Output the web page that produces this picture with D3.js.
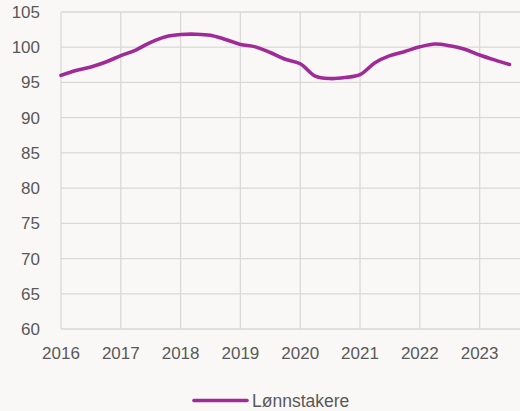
<html>
<head>
<meta charset="UTF-8">
<title>Lønnstakere</title>
<style>
body { margin: 0; background: #f9f8f6; }
svg text { font-family: "Liberation Sans", Arial, sans-serif; fill: #595959; }
.grid line { stroke: #d9d9d9; stroke-width: 1.3; }
</style>
<script src="https://d3js.org/d3.v7.min.js"></script>
</head>
<body>
<div id="chart"></div>
<script>
// quarterly index, 2016K1 - 2023K3
var years = [2016, 2017, 2018, 2019, 2020, 2021, 2022, 2023];
var yTicks = [60, 65, 70, 75, 80, 85, 90, 95, 100, 105];
var seriesName = "Lønnstakere";
var values = [
  96.0, 96.7, 97.2, 97.9,
  98.8, 99.6, 100.7, 101.5,
  101.8, 101.85, 101.7, 101.1,
  100.4, 100.05, 99.25, 98.3,
  97.65, 95.9, 95.55, 95.7,
  96.1, 97.8, 98.8, 99.4,
  100.05, 100.45, 100.2, 99.7,
  98.9, 98.2, 97.55
];

var width = 520, height = 411;
var plotLeft = 61, plotTop = 12, plotBottom = 329, plotRight = 520;

var svg = d3.select("#chart").append("svg")
    .attr("width", width)
    .attr("height", height);

svg.append("rect").attr("width", width).attr("height", height).attr("fill", "#f9f8f6");

var x = d3.scaleLinear().domain([2016, 2016 + 7.675]).range([plotLeft, plotRight]);
var y = d3.scaleLinear().domain([60, 105]).range([plotBottom, plotTop]);

var grid = svg.append("g").attr("class", "grid");
grid.selectAll(".h").data(yTicks).enter().append("line")
    .attr("x1", plotLeft).attr("x2", plotRight)
    .attr("y1", function(d){ return y(d); })
    .attr("y2", function(d){ return y(d); });
grid.selectAll(".v").data(years).enter().append("line")
    .attr("y1", plotTop).attr("y2", plotBottom)
    .attr("x1", function(d){ return x(d); })
    .attr("x2", function(d){ return x(d); });

svg.selectAll(".ylab").data(yTicks).enter().append("text")
    .attr("x", 40)
    .attr("y", function(d){ return y(d); })
    .attr("dy", "0.35em")
    .attr("text-anchor", "end")
    .style("font-size", "17px")
    .text(function(d){ return d; });

svg.selectAll(".xlab").data(years).enter().append("text")
    .attr("x", function(d){ return x(d); })
    .attr("y", 359)
    .attr("text-anchor", "middle")
    .style("font-size", "17px")
    .text(function(d){ return d; });

var line = d3.line()
    .x(function(d, i){ return x(2016 + i / 4); })
    .y(function(d){ return y(d); })
    .curve(d3.curveCatmullRom.alpha(0.5));

svg.append("path")
    .datum(values)
    .attr("fill", "none")
    .attr("stroke", "#a02a98")
    .attr("stroke-width", 3.6)
    .attr("stroke-linecap", "round")
    .attr("d", line);

// legend
var lg = svg.append("g");
lg.append("line")
    .attr("x1", 194).attr("x2", 247)
    .attr("y1", 400.5).attr("y2", 400.5)
    .attr("stroke", "#a02a98")
    .attr("stroke-width", 3.6)
    .attr("stroke-linecap", "round");
lg.append("text")
    .attr("x", 252).attr("y", 400.5)
    .attr("dy", "0.35em")
    .style("font-size", "17.5px")
    .text(seriesName);
</script>
</body>
</html>
